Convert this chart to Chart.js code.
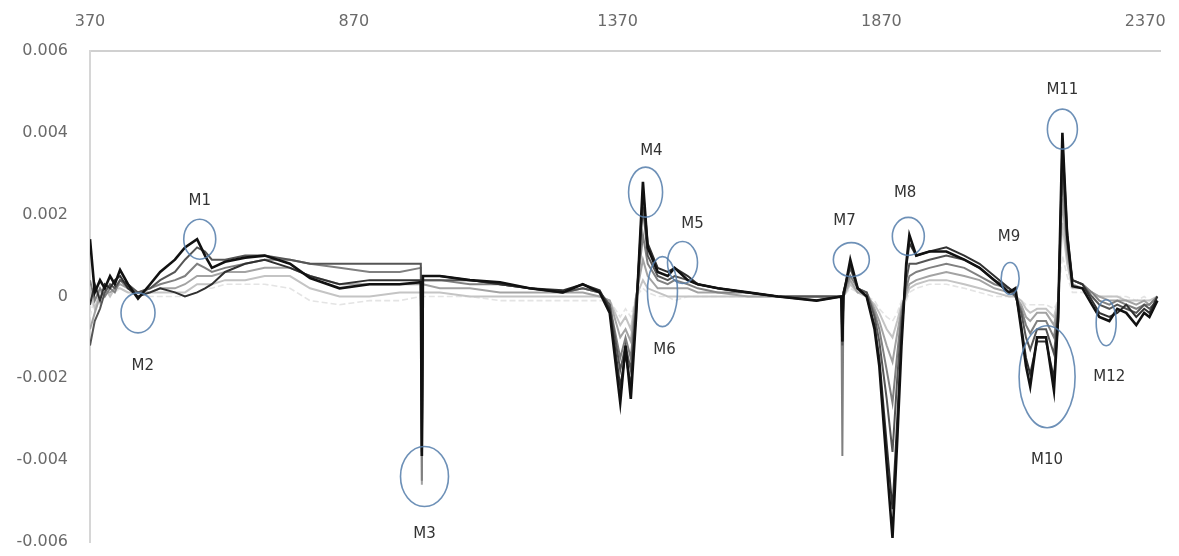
<!DOCTYPE html>
<html>
<head>
<meta charset="utf-8">
<script src="https://cdn.jsdelivr.net/npm/chart.js@4.4.1/dist/chart.umd.min.js"></script>
<style>
  body { margin: 0; background: #fff; }
  canvas { display: block; }
</style>
</head>
<body>
<canvas id="chart" width="1179" height="556"></canvas>
<script>
// wavelength (nm)
const wavelengths = [
  370, 379, 389, 398, 408, 417, 427, 442, 461, 484,
  503, 531, 550, 573, 588, 601, 626, 664, 701, 749,
  787, 843, 900, 957, 997, 999, 1001, 1033, 1090, 1147,
  1203, 1266, 1304, 1336, 1355, 1375, 1385, 1395, 1405, 1418,
  1427, 1446, 1465, 1478, 1503, 1522, 1560, 1617, 1674, 1747,
  1794, 1796, 1798, 1811, 1825, 1842, 1857, 1866, 1880, 1891,
  1900, 1908, 1917, 1923, 1936, 1961, 1993, 2027, 2056, 2084,
  2112, 2124, 2135, 2144, 2152, 2165, 2182, 2197, 2205, 2213,
  2222, 2232, 2251, 2269, 2283, 2302, 2317, 2334, 2353, 2368,
  2378, 2393
];

const sample1 = [
  0.0014, 0.0001, 0.0004, 0.0002, 0.0005, 0.0003, 0.00065, 0.0003, -0.00005, 0.0003,
  0.0006, 0.0009, 0.0012, 0.0014, 0.0010, 0.0007, 0.00085, 0.00095, 0.0010, 0.0008,
  0.00045, 0.0002, 0.0003, 0.0003, 0.00035, -0.0039, 0.0005, 0.0005, 0.0004, 0.00035,
  0.0002, 0.0001, 0.0003, 0.0001, -0.0004, -0.0026, -0.0012, -0.0025, -0.0005, 0.0028,
  0.0012, 0.0006, 0.0005, 0.0007, 0.0004, 0.0003, 0.0002, 0.0001, 0.0, -0.0001,
  0.0, -0.0011, 0.0, 0.0009, 0.0002, 0.0, -0.0008, -0.0017, -0.0041, -0.0059,
  -0.0035, -0.0012, 0.0008, 0.0015, 0.0010, 0.0011, 0.0011, 0.0009, 0.0007, 0.0004,
  0.0001, 0.0002, -0.0008, -0.0017, -0.0022, -0.0010, -0.0010, -0.0023, -0.0005, 0.0040,
  0.0015, 0.00025, 0.0002, -0.0002, -0.0005, -0.0006, -0.0003, -0.0004, -0.0007, -0.0004,
  -0.0005, -0.0001
];

const sample2 = [
  -0.0002, 0.0003, -0.0001, 0.0003, 0.0002, 0.0004, 0.0005, 0.0002, 0.0, 0.0001,
  0.0002, 0.0001, 0.0, 0.0001, 0.0002, 0.0003, 0.0006, 0.0008, 0.0009, 0.0007,
  0.0005, 0.0003, 0.0004, 0.0004, 0.0004, -0.0038, 0.0005, 0.0005, 0.0004, 0.0003,
  0.0002, 0.00015, 0.0003, 0.00015, -0.0003, -0.0022, -0.0014, -0.0022, -0.0004, 0.0026,
  0.0013, 0.0007, 0.0006, 0.0007, 0.0005, 0.0003, 0.0002, 0.0001, 0.0, -0.0001,
  0.0, -0.0011, 0.0001, 0.0008, 0.0002, 0.0, -0.0007, -0.0015, -0.0036, -0.0052,
  -0.0030, -0.0010, 0.0007, 0.0013, 0.0010, 0.0011, 0.0012, 0.0010, 0.0008, 0.0005,
  0.0002, 0.0001, -0.0007, -0.0015, -0.0019, -0.0011, -0.0011, -0.0020, -0.0006, 0.0038,
  0.0016, 0.0004, 0.0003, -0.0001, -0.0004, -0.0005, -0.0004, -0.0002, -0.0005, -0.0003,
  -0.0004, 0.0
];

const sample3 = [
  -0.0012, -0.0006, -0.0003, 0.0001, 0.0003, 0.0002, 0.0004, 0.0003, 0.0001, 0.0002,
  0.0004, 0.0006, 0.0009, 0.0012, 0.0011, 0.0009, 0.0009, 0.0010, 0.0010, 0.0009,
  0.0008, 0.0008, 0.0008, 0.0008, 0.0008, -0.0037, 0.0004, 0.0004, 0.0004, 0.0003,
  0.0002, 0.0001, 0.0002, 0.0001, -0.0002, -0.0018, -0.0012, -0.0018, -0.0002, 0.0022,
  0.0010, 0.0005, 0.0004, 0.0005, 0.0004, 0.0003, 0.0002, 0.0001, 0.0, 0.0,
  0.0, -0.0012, 0.0001, 0.0007, 0.0002, 0.0001, -0.0005, -0.0011, -0.0025, -0.0038,
  -0.0020, -0.0006, 0.0004, 0.0008, 0.0008, 0.0009, 0.0010, 0.0009, 0.0007, 0.0004,
  0.0002, 0.0, -0.0004, -0.0010, -0.0013, -0.0008, -0.0008, -0.0014, -0.0004, 0.0035,
  0.0014, 0.0004, 0.0003, 0.0, -0.0002, -0.0003, -0.0002, -0.0003, -0.0004, -0.0002,
  -0.0003, -0.0001
];

const sample4 = [
  0.0004, -0.0001, 0.0002, 0.0, 0.0002, 0.0001, 0.0004, 0.0002, 0.0001, 0.0002,
  0.0003, 0.0004, 0.0005, 0.0008, 0.0007, 0.0006, 0.0007, 0.0008, 0.0009, 0.0009,
  0.0008, 0.0007, 0.0006, 0.0006, 0.0007, -0.0045, 0.0004, 0.0004, 0.0003, 0.0003,
  0.0002, 0.0001, 0.0002, 0.0001, -0.0002, -0.0015, -0.0010, -0.0015, -0.0001, 0.0015,
  0.0008, 0.0004, 0.0003, 0.0004, 0.0003, 0.0002, 0.0001, 0.0001, 0.0, 0.0,
  0.0, -0.0039, 0.0001, 0.0005, 0.0002, 0.0001, -0.0004, -0.0008, -0.0018, -0.0026,
  -0.0014, -0.0004, 0.0002, 0.0005, 0.0006, 0.0007, 0.0008, 0.0007, 0.0005, 0.0003,
  0.0002, 0.0, -0.0003, -0.0007, -0.0009, -0.0006, -0.0006, -0.0010, -0.0003, 0.0030,
  0.0012, 0.0004, 0.0003, 0.0001, -0.0001, -0.0002, -0.0001, -0.0002, -0.0003, -0.0002,
  -0.0002, 0.0
];

const sample5 = [
  -0.0008, -0.0004, 0.0, 0.0001, 0.0001, 0.0002, 0.0003, 0.0002, 0.0001, 0.0001,
  0.0002, 0.0002, 0.0003, 0.0005, 0.0005, 0.0005, 0.0006, 0.0006, 0.0007, 0.0007,
  0.0005, 0.0003, 0.0003, 0.0003, 0.0003, -0.0046, 0.0003, 0.0002, 0.0002, 0.0001,
  0.0001, 0.0001, 0.0001, 0.0, -0.0001, -0.0010, -0.0008, -0.0011, 0.0, 0.0009,
  0.0005, 0.0002, 0.0002, 0.0002, 0.0002, 0.0001, 0.0001, 0.0, 0.0, 0.0,
  0.0, 0.0, 0.0, 0.0004, 0.0001, 0.0001, -0.0003, -0.0006, -0.0012, -0.0016,
  -0.0009, -0.0003, 0.0001, 0.0003, 0.0004, 0.0005, 0.0006, 0.0005, 0.0004, 0.0002,
  0.0001, 0.0, -0.0002, -0.0005, -0.0006, -0.0004, -0.0004, -0.0007, -0.0002, 0.0024,
  0.0010, 0.0003, 0.0002, 0.0001, 0.0, -0.0001, -0.0001, -0.0001, -0.0002, -0.0001,
  -0.0002, 0.0
];

const sample6 = [
  0.0002, -0.0003, 0.0001, 0.0002, 0.0, 0.0002, 0.0002, 0.0001, 0.0001, 0.0001,
  0.0001, 0.0001, 0.0001, 0.0003, 0.0003, 0.0003, 0.0004, 0.0004, 0.0005, 0.0005,
  0.0002, 0.0, 0.0, 0.0001, 0.0001, 0.0001, 0.0001, 0.0001, 0.0, 0.0,
  0.0, 0.0, 0.0, 0.0, -0.0001, -0.0007, -0.0005, -0.0008, 0.0, 0.0004,
  0.0002, 0.0001, 0.0, 0.0, 0.0, 0.0, 0.0, 0.0, 0.0, 0.0,
  0.0, 0.0, 0.0, 0.0003, 0.0001, 0.0, -0.0002, -0.0004, -0.0008, -0.0010,
  -0.0006, -0.0002, 0.0, 0.0002, 0.0003, 0.0004, 0.0004, 0.0003, 0.0002, 0.0001,
  0.0, 0.0, -0.0001, -0.0003, -0.0004, -0.0003, -0.0003, -0.0005, -0.0001, 0.0018,
  0.0008, 0.0002, 0.0002, 0.0001, 0.0, 0.0, 0.0, -0.0001, -0.0001, -0.0001,
  -0.0001, 0.0
];

const sample7 = [
  -0.0005, 0.0, -0.0002, 0.0001, 0.0001, 0.0001, 0.0002, 0.0001, 0.0001, 0.0,
  0.0, 0.0, 0.0, 0.0001, 0.0002, 0.0002, 0.0003, 0.0003, 0.0003, 0.0002,
  -0.0001, -0.0002, -0.0001, -0.0001, 0.0, 0.0, 0.0, 0.0, 0.0, -0.0001,
  -0.0001, -0.0001, -0.0001, -0.0001, -0.0001, -0.0005, -0.0003, -0.0005, 0.0, 0.0002,
  0.0001, 0.0, 0.0, -0.0001, 0.0, 0.0, 0.0, 0.0, 0.0, 0.0,
  0.0, 0.0, 0.0, 0.0002, 0.0001, 0.0, -0.0001, -0.0003, -0.0005, -0.0006,
  -0.0004, -0.0001, -0.0001, 0.0001, 0.0002, 0.0003, 0.0003, 0.0002, 0.0001, 0.0,
  0.0, 0.0, -0.0001, -0.0002, -0.0002, -0.0002, -0.0002, -0.0003, -0.0001, 0.0010,
  0.0005, 0.0001, 0.0001, 0.0, 0.0, 0.0, 0.0, 0.0, -0.0001, 0.0,
  -0.0001, 0.0
];

const xTickValues = [370, 870, 1370, 1870, 2370];

// marked features: circle centre and label position, in data units
const markNames  = ['M1', 'M2', 'M3', 'M4', 'M5', 'M6', 'M7', 'M8', 'M9', 'M10', 'M11', 'M12'];
const markX      = [578, 461, 1004, 1423, 1493, 1455, 1813, 1921, 2114, 2184, 2213, 2296];
const markY      = [0.0014, -0.0004, -0.0044, 0.00255, 0.00083, 0.00012, 0.0009, 0.00147, 0.00044, -0.00196, 0.00409, -0.00064];
const markLabelX = [578, 470, 1004, 1434, 1512, 1459, 1800, 1915, 2112, 2184, 2213, 2302];
const markLabelY = [0.00233, -0.0017, -0.0058, 0.00355, 0.00176, -0.0013, 0.00184, 0.00252, 0.00144, -0.0040, 0.00504, -0.00196];
// ellipse radii in px
const markRx = [16, 17, 24, 17, 15, 15, 18, 16, 9, 28, 15, 10];
const markRy = [20, 20, 30, 25, 21, 35, 17, 19, 16, 51, 20, 23];

const samples = [sample1, sample2, sample3, sample4, sample5, sample6, sample7];
const lineColors = ['#111111', '#303030', '#555555', '#808080', '#a3a3a3', '#c4c4c4', '#e4e4e4'];
const lineWidths = [2.6, 2, 2, 2, 2, 2, 1.6];

function toPoints(values) {
  return values.map((v, i) => ({ x: wavelengths[i], y: v }));
}

const marksPlugin = {
  id: 'marks',
  afterDatasetsDraw(chart) {
    let ctx = chart.ctx;
    let xs = chart.scales.x;
    let ys = chart.scales.y;
    ctx.save();
    ctx.strokeStyle = 'rgba(84,125,170,0.85)';
    ctx.lineWidth = 1.6;
    for (let i = 0; i < markNames.length; i++) {
      ctx.beginPath();
      ctx.ellipse(xs.getPixelForValue(markX[i]), ys.getPixelForValue(markY[i]), markRx[i], markRy[i], 0, 0, Math.PI * 2);
      ctx.stroke();
    }
    ctx.fillStyle = '#333';
    ctx.font = '15px "DejaVu Sans"';
    ctx.textAlign = 'center';
    ctx.textBaseline = 'middle';
    for (let i = 0; i < markNames.length; i++) {
      ctx.fillText(markNames[i], xs.getPixelForValue(markLabelX[i]), ys.getPixelForValue(markLabelY[i]));
    }
    ctx.restore();
  }
};

new Chart(document.getElementById('chart'), {
  type: 'line',
  data: {
    datasets: samples.map((s, i) => ({
      data: toPoints(s),
      borderColor: lineColors[i],
      borderWidth: lineWidths[i],
      borderDash: i === 6 ? [6, 3] : [],
      pointRadius: 0,
      tension: 0,
      fill: false
    }))
  },
  options: {
    responsive: false,
    animation: false,
    events: [],
    layout: { padding: { left: 0, top: 0, right: 19, bottom: 14 } },
    plugins: { legend: { display: false }, tooltip: { enabled: false } },
    scales: {
      x: {
        type: 'linear',
        position: 'top',
        min: 370,
        max: 2398,
        afterFit: s => { s.height = 51; s.paddingLeft = 0; s.paddingRight = 0; },
        afterBuildTicks: axis => { axis.ticks = xTickValues.map(v => ({ value: v })); },
        grid: { display: false, drawTicks: false },
        border: { display: true, color: '#d0d0d0', width: 2 },
        ticks: {
          font: { family: 'DejaVu Sans', size: 16 },
          color: '#6a6a6a',
          padding: 20,
          maxRotation: 0,
          callback: v => String(v)
        }
      },
      y: {
        min: -0.006,
        max: 0.006,
        afterFit: s => { s.width = 90; s.paddingTop = 0; s.paddingBottom = 0; },
        grid: { display: false, drawTicks: false },
        border: { display: true, color: '#d6d6d6', width: 2 },
        ticks: {
          stepSize: 0.002,
          font: { family: 'DejaVu Sans', size: 16 },
          color: '#6a6a6a',
          padding: 22,
          callback: v => Math.abs(v) < 1e-9 ? '0' : v.toFixed(3)
        }
      }
    }
  },
  plugins: [marksPlugin]
});
</script>
</body>
</html>
